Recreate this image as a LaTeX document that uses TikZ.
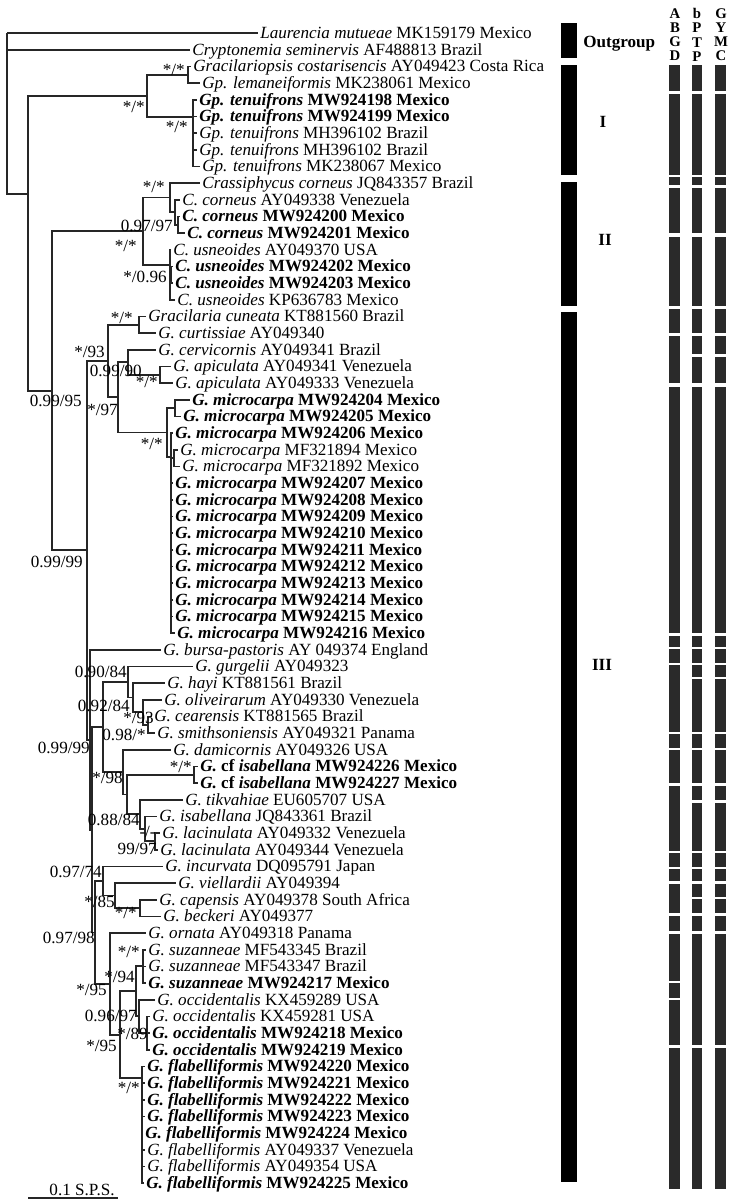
\documentclass[tikz,border=0pt]{standalone}
\usepackage{fontspec}
\setmainfont{Liberation Serif}
\definecolor{barfill}{HTML}{2A2A2A}
\newcommand\taxN[2]{\textit{#1} #2}
\newcommand\taxB[2]{\textbf{\textit{#1} #2}}

\begin{document}
\begin{tikzpicture}[
    x=0.02cm, y=-0.02cm,
    font=\fontsize{9.73}{11}\selectfont,
    branch/.style={line width=0.95pt, draw=black!85},
    taxon/.style={anchor=base west, inner sep=0pt, xshift=0.04cm, yshift=-0.11cm},
    supp/.style={anchor=base east, inner sep=0pt, yshift=-0.11cm},
    clade/.style={anchor=base, inner sep=0pt, yshift=-0.11cm,
                  font=\fontsize{9.73}{11}\selectfont\bfseries},
    cladebar/.style={fill=black},
    colbar/.style={fill=barfill},
    hdr/.style={anchor=north, align=center, inner sep=0pt,
                font=\fontsize{8.4}{8.1}\selectfont\bfseries},
]
\useasboundingbox[fill=white] (0,0) rectangle (750,1201);

%% ── Taxa (row / end of branch / label) ─────────────────────────────────────
\foreach \r/\x/\t in {
    1/258/{\taxN{Laurencia mutueae}{MK159179 Mexico}},
    2/190/{\taxN{Cryptonemia seminervis}{AF488813 Brazil}},
    3/191/{\taxN{Gracilariopsis costarisencis}{AY049423 Costa Rica}},
    4/200/{\taxN{Gp. lemaneiformis}{MK238061 Mexico}},
    5/197/{\taxB{Gp. tenuifrons}{MW924198 Mexico}},
    6/197/{\taxB{Gp. tenuifrons}{MW924199 Mexico}},
    7/197/{\taxN{Gp. tenuifrons}{MH396102 Brazil}},
    8/197/{\taxN{Gp. tenuifrons}{MH396102 Brazil}},
    9/200/{\taxN{Gp. tenuifrons}{MK238067 Mexico}},
    10/200/{\taxN{Crassiphycus corneus}{JQ843357 Brazil}},
    11/180/{\taxN{C. corneus}{AY049338 Venezuela}},
    12/180/{\taxB{C. corneus}{MW924200 Mexico}},
    13/185/{\taxB{C. corneus}{MW924201 Mexico}},
    14/171/{\taxN{C. usneoides}{AY049370 USA}},
    15/173/{\taxB{C. usneoides}{MW924202 Mexico}},
    16/173/{\taxB{C. usneoides}{MW924203 Mexico}},
    17/175/{\taxN{C. usneoides}{KP636783 Mexico}},
    18/146/{\taxN{Gracilaria cuneata}{KT881560 Brazil}},
    19/156/{\taxN{G. curtissiae}{AY049340}},
    20/156/{\taxN{G. cervicornis}{AY049341 Brazil}},
    21/171/{\taxN{G. apiculata}{AY049341 Venezuela}},
    22/173/{\taxN{G. apiculata}{AY049333 Venezuela}},
    23/190/{\taxB{G. microcarpa}{MW924204 Mexico}},
    24/181/{\taxB{G. microcarpa}{MW924205 Mexico}},
    25/173/{\taxB{G. microcarpa}{MW924206 Mexico}},
    26/178/{\taxN{G. microcarpa}{MF321894 Mexico}},
    27/180/{\taxN{G. microcarpa}{MF321892 Mexico}},
    37/175/{\taxB{G. microcarpa}{MW924216 Mexico}},
    38/161/{\taxN{G. bursa-pastoris}{AY 049374 England}},
    39/193/{\taxN{G. gurgelii}{AY049323}},
    40/165/{\taxN{G. hayi}{KT881561 Brazil}},
    41/162/{\taxN{G. oliveirarum}{AY049330 Venezuela}},
    42/152/{\taxN{G. cearensis}{KT881565 Brazil}},
    43/155/{\taxN{G. smithsoniensis}{AY049321 Panama}},
    44/171/{\taxN{G. damicornis}{AY049326 USA}},
    45/198/{\textbf{\textit{G.} cf \textit{isabellana} MW924226 Mexico}},
    46/198/{\textbf{\textit{G.} cf \textit{isabellana} MW924227 Mexico}},
    47/183/{\taxN{G. tikvahiae}{EU605707 USA}},
    48/157/{\taxN{G. isabellana}{JQ843361 Brazil}},
    49/160/{\taxN{G. lacinulata}{AY049332 Venezuela}},
    50/158/{\taxN{G. lacinulata}{AY049344 Venezuela}},
    51/163/{\taxN{G. incurvata}{DQ095791 Japan}},
    52/176/{\taxN{G. viellardii}{AY049394}},
    53/157/{\taxN{G. capensis}{AY049378 South Africa}},
    54/161/{\taxN{G. beckeri}{AY049377}},
    55/146/{\taxN{G. ornata}{AY049318 Panama}},
    56/146/{\taxN{G. suzanneae}{MF543345 Brazil}},
    57/146/{\taxN{G. suzanneae}{MF543347 Brazil}},
    58/146/{\taxB{G. suzanneae}{MW924217 Mexico}},
    59/155/{\taxN{G. occidentalis}{KX459289 USA}},
    60/150/{\taxN{G. occidentalis}{KX459281 USA}},
    61/150/{\taxB{G. occidentalis}{MW924218 Mexico}},
    62/150/{\taxB{G. occidentalis}{MW924219 Mexico}},
    63/145/{\taxB{G. flabelliformis}{MW924220 Mexico}},
    64/145/{\taxB{G. flabelliformis}{MW924221 Mexico}},
    65/145/{\taxB{G. flabelliformis}{MW924222 Mexico}},
    66/145/{\taxB{G. flabelliformis}{MW924223 Mexico}},
    67/143/{\taxB{G. flabelliformis}{MW924224 Mexico}},
    68/145/{\taxN{G. flabelliformis}{AY049337 Venezuela}},
    69/145/{\taxN{G. flabelliformis}{AY049354 USA}},
    70/144/{\taxB{G. flabelliformis}{MW924225 Mexico}}}{
  \pgfmathsetmacro\yy{33+16.667*(\r-1)}
  \coordinate (t\r) at (\x,\yy);
  \node[taxon] (lab\r) at (t\r) {\t};
}
%% microcarpa run MW924207 ... MW924215
\foreach \n [count=\i] in {207,...,215}{
  \pgfmathtruncatemacro\r{27+\i}
  \pgfmathsetmacro\yy{33+16.667*(\r-1)}
  \coordinate (t\r) at (173,\yy);
  \node[taxon] (lab\r) at (t\r) {\taxB{G. microcarpa}{MW924\n{} Mexico}};
}

%% ── Internal nodes ─────────────────────────────────────────────────────────
\coordinate (root)   at (7,33);
\coordinate (ing)    at (28,194);
\coordinate (cI)     at (147,96);
\coordinate (gp)     at (188,75);
\coordinate (ten)    at (193,117);
\coordinate (cIIIII) at (52,390.8);
\coordinate (cII)    at (143,231.3);
\coordinate (cor1)   at (170,197.6);
\coordinate (cor2)   at (175,212.2);
\coordinate (cor3)   at (178,224.7);
\coordinate (usn)    at (170,265);
\coordinate (usn2)   at (171,274.7);
\coordinate (c3)     at (87,550.3);
\coordinate (g3a)    at (108,361);
\coordinate (cun)    at (139,324.7);
\coordinate (g3b)    at (118,397.3);
\coordinate (ca)     at (128,362.2);
\coordinate (api)    at (160,374.7);
\coordinate (mic)    at (167,432.5);
\coordinate (m1)     at (175,408);
\coordinate (m2)     at (171,457);
\coordinate (mf)     at (174,458);
\coordinate (n1)     at (90,739.7);
\coordinate (n2)     at (92,829.7);
\coordinate (gg)     at (103,727);
\coordinate (gur)    at (128,682);
\coordinate (hay)    at (133,697.6);
\coordinate (oli)    at (143,712.2);
\coordinate (cs)     at (148,724.7);
\coordinate (dam)    at (123,772.1);
\coordinate (isa)    at (127,794.5);
\coordinate (cf)     at (194,774.7);
\coordinate (tik)    at (140,814.3);
\coordinate (isb)    at (145,828.8);
\coordinate (lac)    at (155,841.3);
\coordinate (n3)     at (95,932.4);
\coordinate (n5)     at (103,880.9);
\coordinate (n6)     at (115,895.5);
\coordinate (n7)     at (140,908);
\coordinate (n4)     at (110,983.8);
\coordinate (n8)     at (120,1034.7);
\coordinate (n9)     at (136,991.3);
\coordinate (suz)    at (143,966.3);
\coordinate (occ)    at (139,1016.3);
\coordinate (occ2)   at (147,1033);
\coordinate (flab)   at (142,1078);

%% ── Branches (parent |- child) ─────────────────────────────────────────────
\foreach \p/\c in {root/t1, root/t2, root/ing, ing/cI, ing/cIIIII,
    cI/gp, cI/ten, gp/t3, gp/t4, ten/t5, ten/t6, ten/t7, ten/t8, ten/t9,
    cIIIII/cII, cIIIII/c3, cII/cor1, cII/usn, cor1/t10, cor1/cor2,
    cor2/t11, cor2/cor3, cor3/t12, cor3/t13,
    usn/t14, usn/usn2, usn/t17, usn2/t15, usn2/t16,
    c3/g3a, c3/n1, g3a/cun, g3a/g3b, cun/t18, cun/t19,
    g3b/ca, g3b/mic, ca/t20, ca/api, api/t21, api/t22,
    mic/m1, mic/m2, m1/t23, m1/t24, m2/t25, m2/mf, mf/t26, mf/t27,
    m2/t28, m2/t29, m2/t30, m2/t31, m2/t32, m2/t33, m2/t34, m2/t35,
    m2/t36, m2/t37,
    n1/t38, n1/n2, n2/gg, n2/n3, gg/gur, gg/dam,
    gur/t39, gur/hay, hay/t40, hay/oli, oli/t41, oli/cs, cs/t42, cs/t43,
    dam/t44, dam/isa, isa/cf, isa/tik, cf/t45, cf/t46,
    tik/t47, tik/isb, isb/t48, isb/lac, lac/t49, lac/t50,
    n3/n5, n3/n4, n5/t51, n5/n6, n6/t52, n6/n7, n7/t53, n7/t54,
    n4/t55, n4/n8, n8/n9, n8/flab, n9/suz, n9/occ,
    suz/t56, suz/t57, suz/t58, occ/t59, occ/occ2,
    occ2/t60, occ2/t61, occ2/t62,
    flab/t63, flab/t64, flab/t65, flab/t66, flab/t67, flab/t68,
    flab/t69, flab/t70}
  \draw[branch] (\p) |- (\c);

%% ── Support values (right edge / centre line) ──────────────────────────────
\foreach \x/\y/\lbl [count=\k] in {
    185/70/{*/*}, 145/107/{*/*}, 188/127/{*/*}, 165/187/{*/*},
    173/226/{0.97/97}, 137/246/{*/*}, 167/277/{*/0.96},
    133/318/{*/*}, 105/352/{*/93}, 142/371/{0.99/90}, 158/382/{*/*},
    118/410/{*/97}, 163/444/{*/*}, 82/401/{0.99/95}, 83/562/{0.99/99},
    127/672/{0.90/84}, 130/706/{0.92/84}, 154/718/{*/93},
    146/735/{0.98/*}, 90/748/{0.99/99}, 192/767/{*/*}, 123/778/{*/98},
    140/820/{0.88/84}, 156/832/{-/-}, 157/849/{99/97},
    102/872/{0.97/74}, 115/902/{*/85}, 137/913/{*/*},
    95/938/{0.97/98}, 140/952/{*/*}, 135/977/{*/94}, 107/990/{*/95},
    137/1016/{0.96/97}, 148/1034/{*/89}, 117/1046/{*/95},
    140/1088/{*/*}}
  \node[supp] (sup\k) at (\x,\y) {\lbl};

%% ── Scale bar ──────────────────────────────────────────────────────────────
\coordinate (sbL) at (28,1198);
\coordinate (sbR) at (118,1198);
\draw[branch] (sbL) -- (sbR);
\node[anchor=base, inner sep=0pt] (sbtxt) at (82,1195) {0.1 S.P.S.};

%% ── Clade bars ─────────────────────────────────────────────────────────────
\fill[cladebar] (561,23)  rectangle (577,58);
\fill[cladebar] (561,65)  rectangle (577,175);
\fill[cladebar] (561,182) rectangle (577,306);
\fill[cladebar] (561,312) rectangle (577,1182);
\node[clade, anchor=base west] (og)   at (583,42)  {Outgroup};
\node[clade] (cl1)  at (603,122) {I};
\node[clade] (cl2)  at (605,240) {II};
\node[clade] (cl3)  at (602,665) {III};

%% ── Delimitation columns ───────────────────────────────────────────────────
\node[hdr] (hABGD) at (675,8) {A\\B\\G\\D};
\node[hdr] (hbPTP) at (697,8) {b\\P\\T\\P};
\node[hdr] (hGYMC) at (721,8) {G\\Y\\M\\C};

\foreach \a/\b in {65/91, 94/175, 177/185, 188/233, 237/306, 309/333,
    336/383, 387/633, 636/647, 649/663, 665/732, 734/748, 750/783,
    786/851, 853/867, 869/881, 884/913, 916/931, 934/981, 983/998,
    1000/1045, 1048/1189}
  \fill[colbar] (669,\a) rectangle (680,\b);

\foreach \a/\b in {65/91, 94/175, 177/185, 188/233, 237/306, 309/333,
    336/354, 357/383, 387/633, 636/647, 649/663, 665/677, 679/732,
    734/748, 750/783, 786/800, 803/851, 853/867, 869/881, 884/897,
    899/913, 916/931, 934/1045, 1048/1189}{
  \fill[colbar] (692,\a) rectangle (702,\b);
  \fill[colbar] (715,\a) rectangle (726,\b);
}

\end{tikzpicture}
\end{document}
